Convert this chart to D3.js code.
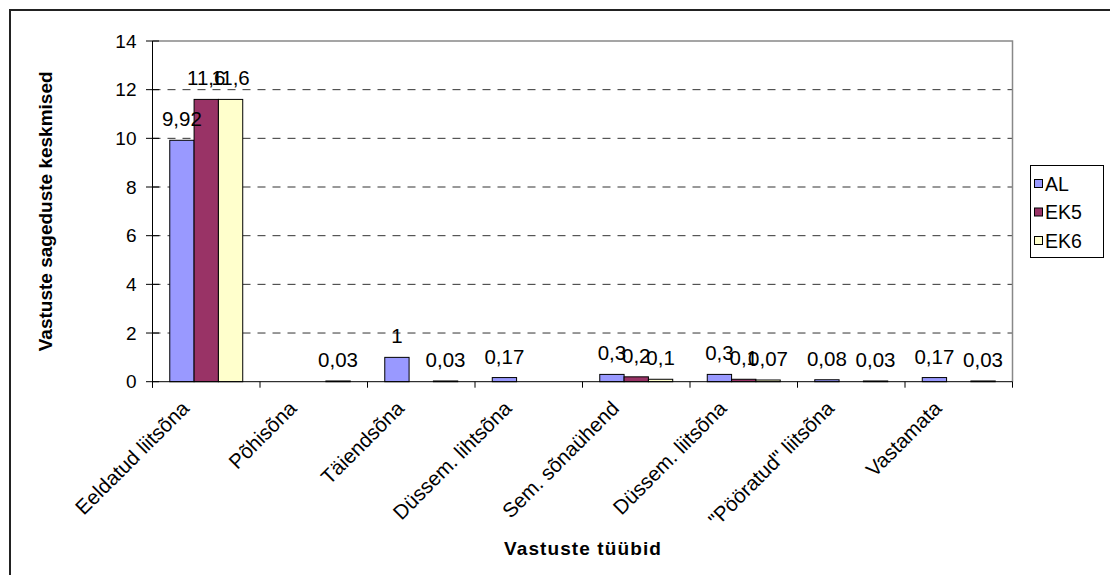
<!DOCTYPE html>
<html>
<head>
<meta charset="utf-8">
<script src="https://cdn.jsdelivr.net/npm/d3@7"></script>
<style>
  html, body { margin: 0; padding: 0; background: #fff; }
  svg { display: block; font-family: "Liberation Sans", Arial, sans-serif; }
</style>
</head>
<body>
<svg id="chart" width="1110" height="575"></svg>
<script>
// Answer types (categories along the x axis)
const categories = [
  "Eeldatud liitsõna",
  "Põhisõna",
  "Täiendsõna",
  "Düssem. lihtsõna",
  "Sem. sõnaühend",
  "Düssem. liitsõna",
  "\"Pööratud\" liitsõna",
  "Vastamata"
];
// Series names
const seriesNames = ["AL", "EK5", "EK6"];
// Mean answer frequencies per series (null = no value)
const valuesAL  = [9.92, null, 1,    0.17, 0.3, 0.3,  0.08, 0.17];
const valuesEK5 = [11.6, null, null, null, 0.2, 0.1,  null, null];
const valuesEK6 = [11.6, 0.03, 0.03, null, 0.1, 0.07, 0.03, 0.03];
// Y axis ticks
const yTicks = [0, 2, 4, 6, 8, 10, 12, 14];

const seriesValues = [valuesAL, valuesEK5, valuesEK6];
const colors = { AL: "#9999FF", EK5: "#993366", EK6: "#FFFFCC" };

const svg = d3.select("#chart");

// outer chart frame
svg.append("rect")
  .attr("x", 10).attr("y", 10)
  .attr("width", 1120).attr("height", 600)
  .attr("fill", "none").attr("stroke", "#222").attr("stroke-width", 2);

const plot = { left: 152.5, right: 1012.5, top: 41, bottom: 381.7 };

const x0 = d3.scaleBand()
  .domain(d3.range(categories.length))
  .range([plot.left, plot.right])
  .paddingInner(0).paddingOuter(0);

const x1 = d3.scaleBand()
  .domain(seriesNames)
  .range([0, x0.bandwidth()])
  .paddingInner(0).paddingOuter(0.71);

const y = d3.scaleLinear().domain([0, 14]).range([plot.bottom, plot.top]);

// dashed gridlines
svg.append("g")
  .selectAll("line")
  .data(yTicks.filter(t => t > 0 && t < 14))
  .join("line")
  .attr("x1", plot.left).attr("x2", plot.right)
  .attr("y1", d => y(d)).attr("y2", d => y(d))
  .attr("stroke", "#333").attr("stroke-width", 1)
  .attr("stroke-dasharray", "8,7");

// plot area border (top and right)
svg.append("path")
  .attr("d", `M${plot.left},${y(14)}H${plot.right}V${plot.bottom}`)
  .attr("fill", "none").attr("stroke", "#888").attr("stroke-width", 1.5);

// bars
const rows = [];
seriesNames.forEach((s, si) => {
  seriesValues[si].forEach((v, ci) => {
    if (v !== null) rows.push({ s, ci, v });
  });
});

svg.append("g")
  .selectAll("rect")
  .data(rows)
  .join("rect")
  .attr("x", d => x0(d.ci) + x1(d.s))
  .attr("y", d => y(d.v))
  .attr("width", x1.bandwidth())
  .attr("height", d => y(0) - y(d.v))
  .attr("fill", d => colors[d.s])
  .attr("stroke", "#000").attr("stroke-width", 1);

// y axis
const yAxis = d3.axisLeft(y).tickValues(yTicks).tickSize(0).tickPadding(16);
const gy = svg.append("g").attr("transform", `translate(${plot.left},0)`).call(yAxis);
gy.select(".domain").remove();
gy.selectAll("text").attr("font-size", 19).attr("fill", "#000")
  .attr("font-family", "Liberation Sans, Arial, sans-serif");
svg.append("line")
  .attr("x1", plot.left).attr("x2", plot.left)
  .attr("y1", plot.top).attr("y2", plot.bottom + 6)
  .attr("stroke", "#000").attr("stroke-width", 1);
svg.append("g").selectAll("line").data(yTicks).join("line")
  .attr("x1", plot.left - 6.5).attr("x2", plot.left + 6.5)
  .attr("y1", d => y(d)).attr("y2", d => y(d))
  .attr("stroke", "#000").attr("stroke-width", 1);

// x axis line and category boundary ticks
svg.append("line")
  .attr("x1", plot.left).attr("x2", plot.right)
  .attr("y1", plot.bottom).attr("y2", plot.bottom)
  .attr("stroke", "#000").attr("stroke-width", 1);
svg.append("g").selectAll("line")
  .data(d3.range(categories.length + 1))
  .join("line")
  .attr("x1", i => plot.left + i * x0.step())
  .attr("x2", i => plot.left + i * x0.step())
  .attr("y1", plot.bottom).attr("y2", plot.bottom + 6)
  .attr("stroke", "#000").attr("stroke-width", 1);

// rotated category labels
svg.append("g").selectAll("text")
  .data(categories)
  .join("text")
  .attr("transform", (d, i) => `translate(${x0(i) + x0.bandwidth() / 2 - 16},${plot.bottom + 28}) rotate(-45)`)
  .attr("text-anchor", "end")
  .attr("font-size", 20.5)
  .attr("fill", "#000")
  .text(d => d);

// value labels above bars
const fmt = v => String(v).replace(".", ",");
svg.append("g").selectAll("text")
  .data(rows)
  .join("text")
  .attr("x", d => x0(d.ci) + x1(d.s) + x1.bandwidth() / 2)
  .attr("y", d => y(d.v) - 14)
  .attr("text-anchor", "middle")
  .attr("font-size", 20.5)
  .attr("fill", "#000")
  .text(d => fmt(d.v));

// axis titles
svg.append("text")
  .attr("x", 583).attr("y", 555)
  .attr("text-anchor", "middle")
  .attr("font-size", 19).attr("font-weight", "bold")
  .attr("letter-spacing", 1.1)
  .text("Vastuste tüübid");

svg.append("text")
  .attr("transform", `translate(52,${(plot.top + plot.bottom) / 2}) rotate(-90)`)
  .attr("text-anchor", "middle")
  .attr("font-size", 19).attr("font-weight", "bold")
  .text("Vastuste sageduste keskmised");

// legend
const legend = svg.append("g");
legend.append("rect")
  .attr("x", 1030.5).attr("y", 165.5)
  .attr("width", 73).attr("height", 92)
  .attr("fill", "#fff").attr("stroke", "#000").attr("stroke-width", 1);
const ly = d3.scalePoint().domain(seriesNames).range([183.5, 240.5]);
seriesNames.forEach(s => {
  legend.append("rect")
    .attr("x", 1034.5).attr("y", ly(s) - 4)
    .attr("width", 8).attr("height", 8)
    .attr("fill", colors[s]).attr("stroke", "#000").attr("stroke-width", 1);
  legend.append("text")
    .attr("x", 1045).attr("y", ly(s))
    .attr("dy", "0.36em")
    .attr("font-size", 19.5)
    .text(s);
});
</script>
</body>
</html>
